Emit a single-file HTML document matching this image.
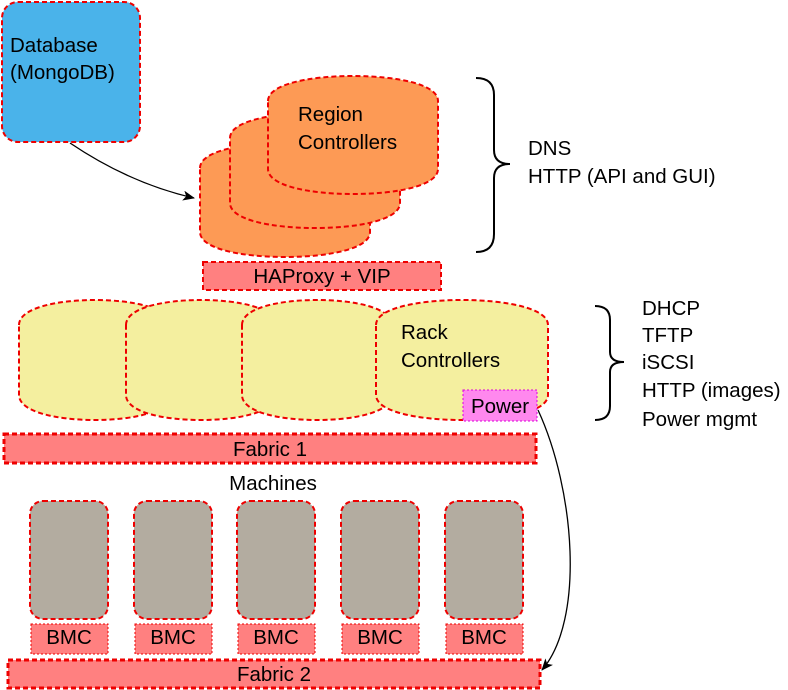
<!DOCTYPE html>
<html><head><meta charset="utf-8"><style>
html,body{margin:0;padding:0;background:#fff}
svg{display:block}
text{font-family:"Liberation Sans","DejaVu Sans",sans-serif;font-size:20.5px;fill:#000}
</style></head><body>
<svg width="788" height="690" viewBox="0 0 788 690" xmlns="http://www.w3.org/2000/svg">
<defs>
<marker id="ar" markerWidth="12" markerHeight="10" refX="11" refY="5" orient="auto" markerUnits="userSpaceOnUse">
<path d="M0,0 L12,5 L0,10 L3,5 Z" fill="#000"/></marker>
</defs>
<g stroke="#e00" stroke-width="2" stroke-dasharray="5,3">
<rect x="2" y="2" width="138" height="140" rx="16" fill="#4ab3ea"/>
<!-- region controllers -->
<path d="M200,168 C200,151 242,143 285,143 C328,143 370,151 370,168 L370,232 C370,249 328,257 285,257 C242,257 200,249 200,232 Z" fill="#fd9a55"/>
<path d="M230,138 C230,121 272,113 315,113 C358,113 400,121 400,138 L400,203 C400,220 358,228 315,228 C272,228 230,220 230,203 Z" fill="#fd9a55"/>
<path d="M268,101 C268,84 310,76 353,76 C396,76 438,84 438,101 L438,169 C438,186 396,194 353,194 C310,194 268,186 268,169 Z" fill="#fd9a55"/>
<rect x="203" y="262" width="238" height="28" fill="#ff8080"/>
<!-- rack -->
<path d="M19,325 C19,308 57,300 95,300 C133,300 170,308 170,325 L170,395 C170,412 133,420 95,420 C57,420 19,412 19,395 Z" fill="#f4ef9f"/>
<path d="M126,325 C126,308 163,300 201,300 C239,300 276,308 276,325 L276,395 C276,412 239,420 201,420 C163,420 126,412 126,395 Z" fill="#f4ef9f"/>
<path d="M242,325 C242,308 279,300 317,300 C355,300 392,308 392,325 L392,395 C392,412 355,420 317,420 C279,420 242,412 242,395 Z" fill="#f4ef9f"/>
<path d="M376,325 C376,308 419,300 462,300 C505,300 548,308 548,325 L548,395 C548,412 505,420 462,420 C419,420 376,412 376,395 Z" fill="#f4ef9f"/>
<rect x="4" y="434" width="532" height="29" fill="#ff8080" stroke-width="3"/>
<!-- machines -->
<rect x="30" y="501" width="78" height="118" rx="13" fill="#b3aca0"/>
<rect x="134" y="501" width="78" height="118" rx="13" fill="#b3aca0"/>
<rect x="237" y="501" width="78" height="118" rx="13" fill="#b3aca0"/>
<rect x="341" y="501" width="78" height="118" rx="13" fill="#b3aca0"/>
<rect x="445" y="501" width="78" height="118" rx="13" fill="#b3aca0"/>
<rect x="8" y="660" width="532" height="28" fill="#ff8080" stroke-width="3"/>
</g>
<g stroke="#e00" stroke-width="1" stroke-dasharray="2,2" fill="#ff8080">
<rect x="31" y="624" width="77" height="30"/>
<rect x="135" y="624" width="77" height="30"/>
<rect x="238" y="624" width="77" height="30"/>
<rect x="342" y="624" width="77" height="30"/>
<rect x="446" y="624" width="77" height="30"/>
</g>
<rect x="463" y="390" width="74" height="31" fill="#ff88ee" stroke="#d0d" stroke-width="1" stroke-dasharray="2,2"/>
<!-- arrows -->
<path d="M70,143 C110,170 150,188 194,198" fill="none" stroke="#000" stroke-width="1.3" marker-end="url(#ar)"/>
<path d="M538,410 C575,490 585,620 542,670" fill="none" stroke="#000" stroke-width="1.3" marker-end="url(#ar)"/>
<!-- braces -->
<path d="M476,78 Q494,78 494,95 L494,150 Q494,164 510,164 Q494,164 494,178 L494,234 Q494,252 476,252" fill="none" stroke="#000" stroke-width="2"/>
<path d="M595,306 Q610,306 610,320 L610,352 Q610,362 624,362 Q610,362 610,372 L610,406 Q610,420 595,420" fill="none" stroke="#000" stroke-width="2"/>
<!-- text -->
<text x="10" y="52">Database</text>
<text x="10" y="79">(MongoDB)</text>
<text x="298" y="121">Region</text>
<text x="298" y="149">Controllers</text>
<text x="322" y="283" text-anchor="middle">HAProxy + VIP</text>
<text x="401" y="339">Rack</text>
<text x="401" y="367">Controllers</text>
<text x="500" y="413" text-anchor="middle">Power</text>
<text x="270" y="456" text-anchor="middle">Fabric 1</text>
<text x="273" y="490" text-anchor="middle">Machines</text>
<text x="69" y="644" text-anchor="middle">BMC</text>
<text x="173" y="644" text-anchor="middle">BMC</text>
<text x="276" y="644" text-anchor="middle">BMC</text>
<text x="380" y="644" text-anchor="middle">BMC</text>
<text x="484" y="644" text-anchor="middle">BMC</text>
<text x="274" y="681" text-anchor="middle">Fabric 2</text>
<text x="528" y="155">DNS</text>
<text x="528" y="183">HTTP (API and GUI)</text>
<text x="642" y="315">DHCP</text>
<text x="642" y="342">TFTP</text>
<text x="642" y="369">iSCSI</text>
<text x="642" y="397">HTTP (images)</text>
<text x="642" y="426">Power mgmt</text>
</svg>
</body></html>
